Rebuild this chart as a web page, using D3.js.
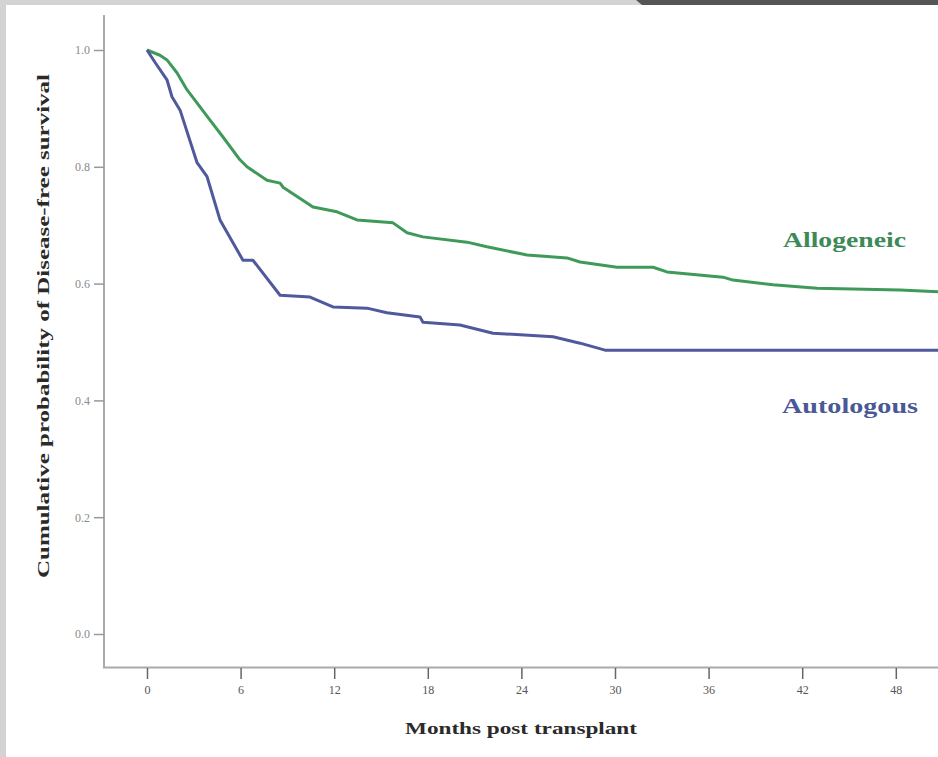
<!DOCTYPE html>
<html>
<head>
<meta charset="utf-8">
<script src="https://cdn.jsdelivr.net/npm/d3@7"></script>
<style>
  html, body { margin: 0; padding: 0; background: #d3d3d3; }
  svg { display: block; }
</style>
</head>
<body>
<script>
// Kaplan–Meier estimates of disease-free survival by transplant type
const allogeneicMonths = [0, 0.83, 1.28, 1.92, 2.56, 4.04, 4.87, 5.96, 6.41, 7.69, 8.53, 8.72, 10.64, 12.18, 13.46, 15.77, 16.67, 17.69, 20.51, 21.79, 24.36, 26.92, 27.76, 30.13, 32.44, 33.33, 36.92, 37.56, 40.13, 42.95, 48.27, 50.8];
const allogeneicSurv   = [1.0, 0.991, 0.983, 0.961, 0.932, 0.880, 0.851, 0.812, 0.800, 0.777, 0.772, 0.765, 0.731, 0.723, 0.709, 0.704, 0.687, 0.680, 0.671, 0.663, 0.649, 0.644, 0.637, 0.628, 0.628, 0.620, 0.611, 0.606, 0.598, 0.592, 0.589, 0.586];

const autologousMonths = [0, 0.51, 1.28, 1.60, 2.12, 3.21, 3.85, 4.68, 6.15, 6.79, 8.53, 10.45, 11.92, 14.10, 15.38, 17.50, 17.69, 20.06, 22.18, 26.03, 27.76, 29.36, 50.8];
const autologousSurv   = [1.0, 0.979, 0.949, 0.920, 0.897, 0.807, 0.783, 0.709, 0.640, 0.640, 0.580, 0.577, 0.560, 0.558, 0.550, 0.543, 0.534, 0.529, 0.515, 0.509, 0.498, 0.486, 0.486];

const xTicks = [0, 6, 12, 18, 24, 30, 36, 42, 48];
const yTicks = [0, 0.2, 0.4, 0.6, 0.8, 1.0];

const seriesNames = ["Allogeneic", "Autologous"];
const seriesColors = ["#3f9a5a", "#4f599c"];
const labelColors = ["#3c8a58", "#4a5896"];

const W = 938, H = 757;
const svg = d3.select("body").append("svg").attr("width", W).attr("height", H);

// frame: light border with a dark band across the upper right
svg.append("rect").attr("x", 0).attr("y", 0).attr("width", W).attr("height", H).attr("fill", "#d3d3d3");
svg.append("polygon").attr("points", "636,0 938,0 938,5 642,5").attr("fill", "#555555");
svg.append("rect").attr("x", 6).attr("y", 5).attr("width", W - 6).attr("height", H - 5).attr("fill", "#ffffff");

const x = d3.scaleLinear().domain([0, 48]).range([147, 895.8]);
const y = d3.scaleLinear().domain([0, 1]).range([634, 50]);

const axisColor = "#aaaaaa";
const serif = "'Liberation Serif', 'DejaVu Serif', serif";

// axis lines
svg.append("line").attr("x1", 104).attr("x2", 104).attr("y1", 15).attr("y2", 668)
  .attr("stroke", axisColor).attr("stroke-width", 2);
svg.append("line").attr("x1", 103).attr("x2", W).attr("y1", 667.5).attr("y2", 667.5)
  .attr("stroke", axisColor).attr("stroke-width", 2);

// y axis ticks
const yAxis = svg.append("g").attr("transform", "translate(104,0)")
  .call(d3.axisLeft(y).tickValues(yTicks).tickFormat(d3.format(".1f")).tickSize(10).tickPadding(4));
yAxis.select(".domain").remove();
yAxis.selectAll(".tick line").attr("stroke", "#999").attr("stroke-width", 1.5);
yAxis.selectAll(".tick text").attr("fill", "#8a8a8a").style("font-family", serif).style("font-size", "12px");

// x axis ticks
const xAxis = svg.append("g").attr("transform", "translate(0,668)")
  .call(d3.axisBottom(x).tickValues(xTicks).tickFormat(d3.format("d")).tickSize(11).tickPadding(6));
xAxis.select(".domain").remove();
xAxis.selectAll(".tick line").attr("stroke", "#666").attr("stroke-width", 1.5);
xAxis.selectAll(".tick text").attr("fill", "#555").style("font-family", serif).style("font-size", "12px");

// axis titles
svg.append("text")
  .attr("transform", "translate(49,326) rotate(-90)")
  .attr("text-anchor", "middle")
  .attr("textLength", 504).attr("lengthAdjust", "spacingAndGlyphs")
  .style("font-family", serif).style("font-weight", "bold").style("font-size", "16px")
  .attr("fill", "#2a2a2a")
  .text("Cumulative probability of Disease-free survival");

svg.append("text")
  .attr("x", 521).attr("y", 734)
  .attr("text-anchor", "middle")
  .attr("textLength", 232).attr("lengthAdjust", "spacingAndGlyphs")
  .style("font-family", serif).style("font-weight", "bold").style("font-size", "17px")
  .attr("fill", "#2a2a2a")
  .text("Months post transplant");

// survival curves
const series = [
  allogeneicMonths.map((m, i) => [m, allogeneicSurv[i]]),
  autologousMonths.map((m, i) => [m, autologousSurv[i]])
];
const line = d3.line().x(d => x(d[0])).y(d => y(d[1])).curve(d3.curveLinear);

svg.append("clipPath").attr("id", "plotclip")
  .append("rect").attr("x", 104).attr("y", 10).attr("width", W - 104).attr("height", 657);

series.forEach((pts, i) => {
  svg.append("path").datum(pts)
    .attr("d", line)
    .attr("fill", "none")
    .attr("stroke", seriesColors[i])
    .attr("stroke-width", 3)
    .attr("stroke-linejoin", "round")
    .attr("clip-path", "url(#plotclip)");
});

// series labels
const labelPos = [[783, 247], [782, 413]];
seriesNames.forEach((name, i) => {
  svg.append("text")
    .attr("x", labelPos[i][0]).attr("y", labelPos[i][1])
    .attr("textLength", i === 0 ? 123 : 136).attr("lengthAdjust", "spacingAndGlyphs")
    .style("font-family", serif).style("font-weight", "bold").style("font-size", "20px")
    .attr("fill", labelColors[i])
    .text(name);
});
</script>
</body>
</html>
